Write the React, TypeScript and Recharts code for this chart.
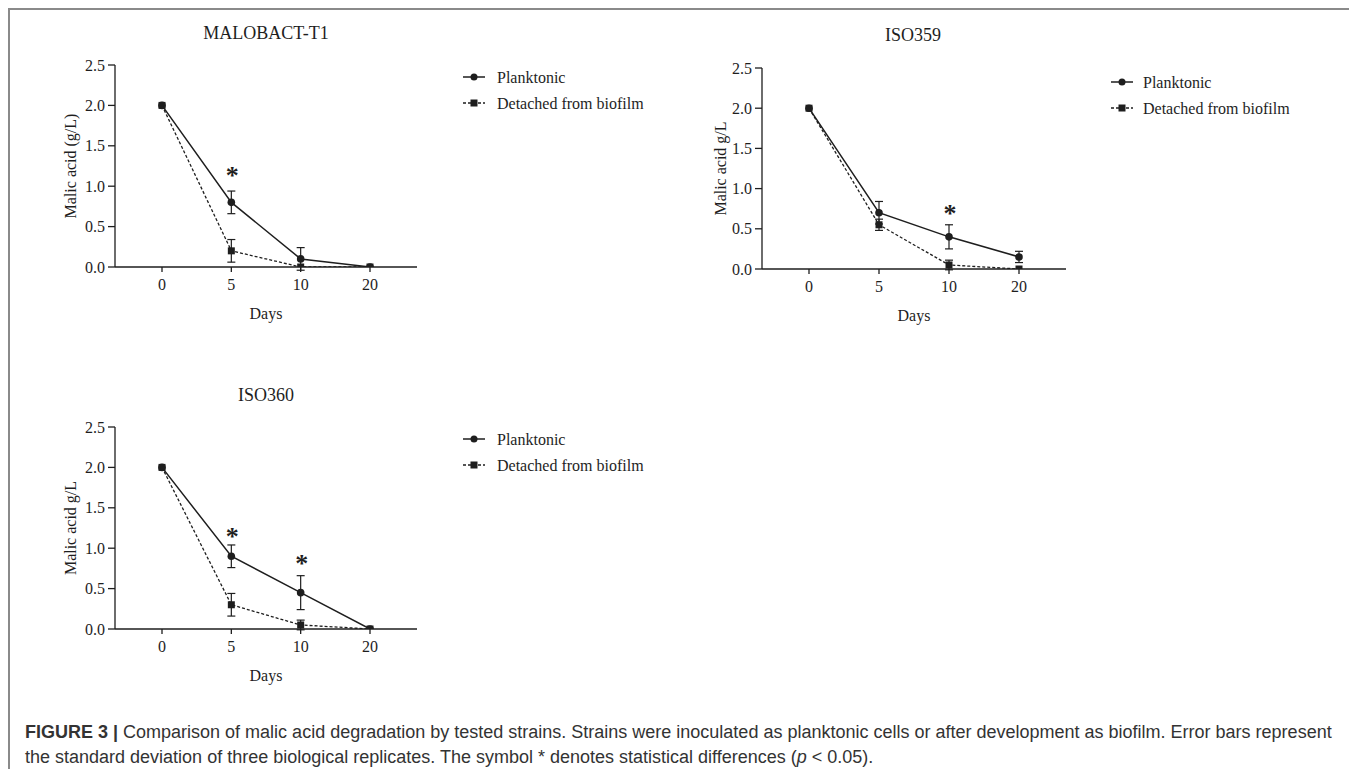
import React from 'react';
import { LineChart, Line, XAxis, YAxis, ErrorBar, ReferenceDot } from 'recharts';

const days = ['0', '5', '10', '20'];
const yTicks = [0, 0.5, 1, 1.5, 2, 2.5];

// MALOBACT-T1
const t1Planktonic = [2.0, 0.8, 0.1, 0.0];
const t1PlanktonicSd = [0, 0.14, 0.14, 0];
const t1Detached = [2.0, 0.2, 0.0, 0.0];
const t1DetachedSd = [0, 0.14, 0, 0];
const t1Stars = [{ day: '5', y: 1.18 }];

// ISO359
const s359Planktonic = [2.0, 0.7, 0.4, 0.15];
const s359PlanktonicSd = [0, 0.14, 0.15, 0.07];
const s359Detached = [2.0, 0.55, 0.05, 0.0];
const s359DetachedSd = [0, 0.07, 0.06, 0];
const s359Stars = [{ day: '10', y: 0.73 }];

// ISO360
const s360Planktonic = [2.0, 0.9, 0.45, 0.0];
const s360PlanktonicSd = [0, 0.14, 0.21, 0];
const s360Detached = [2.0, 0.3, 0.05, 0.0];
const s360DetachedSd = [0, 0.14, 0.06, 0];
const s360Stars = [{ day: '5', y: 1.19 }, { day: '10', y: 0.85 }];

const serif = '"Liberation Serif", "Times New Roman", serif';
const ink = '#1e1e1e';

function buildRows(p: number[], pSd: number[], d: number[], dSd: number[]) {
  return days.map((day, i) => ({ day, plank: p[i], plankSd: pSd[i], det: d[i], detSd: dSd[i] }));
}

const squareDot = (props: any) => (
  <rect key={`sq-${props.index}`} x={props.cx - 3.5} y={props.cy - 3.5} width={7} height={7} fill={ink} />
);

const starShape = (props: any) => (
  <text x={props.cx + 1} y={props.cy + 12} textAnchor="middle" fontSize={26} fontWeight="bold"
    fontFamily={serif} fill={ink}>*</text>
);

function Legend({ left, top, gap }: { left: number; top: number; gap: number }) {
  return (
    <svg style={{ position: 'absolute', left, top: top - 12 }} width={240} height={60}>
      <line x1={0} x2={22} y1={12} y2={12} stroke={ink} strokeWidth={1.5} />
      <circle cx={11} cy={12} r={3.5} fill={ink} />
      <text x={22 + gap} y={12} dominantBaseline="central" fontSize={16} fontFamily={serif} fill={ink}>Planktonic</text>
      <line x1={0} x2={22} y1={38} y2={38} stroke={ink} strokeWidth={1.3} strokeDasharray="3 2" />
      <rect x={7.5} y={34.5} width={7} height={7} fill={ink} />
      <text x={22 + gap} y={38} dominantBaseline="central" fontSize={16} fontFamily={serif} fill={ink}>Detached from biofilm</text>
    </svg>
  );
}

interface PanelProps {
  title: string;
  yLabel: string;
  rows: ReturnType<typeof buildRows>;
  stars: { day: string; y: number }[];
  left: number;
  top: number;
  yWidth: number;
  margin: { top: number; right: number; bottom: number; left: number };
  titleX: number;
  titleY: number;
}

function Panel({ title, yLabel, rows, stars, left, top, yWidth, margin, titleX, titleY }: PanelProps) {
  const tick = { fontSize: 16, fill: ink, fontFamily: serif };
  return (
    <>
      <div style={{
        position: 'absolute', left: titleX, top: titleY - 11, transform: 'translateX(-50%)',
        fontFamily: serif, fontSize: 18, lineHeight: '22px', color: ink, whiteSpace: 'nowrap',
      }}>{title}</div>
      <div style={{ position: 'absolute', left, top }}>
        <LineChart width={440} height={360} data={rows} margin={margin}>
          <XAxis dataKey="day" padding={{ left: 47, right: 47 }} height={92} tick={tick}
            tickSize={5} tickMargin={7} stroke={ink} strokeWidth={1.3}
            label={{ value: 'Days', position: 'center', fontSize: 16, fill: ink, fontFamily: serif }} />
          <YAxis type="number" domain={[0, 2.5]} ticks={yTicks} width={yWidth} tick={tick}
            tickFormatter={(v: number) => v.toFixed(1)} tickSize={7} tickMargin={3}
            stroke={ink} strokeWidth={1.3} allowDataOverflow
            label={{ value: yLabel, angle: -90, position: 'center', fontSize: 16, fill: ink, fontFamily: serif }} />
          <Line dataKey="plank" stroke={ink} strokeWidth={1.5} isAnimationActive={false}
            dot={{ r: 3.8, fill: ink, stroke: ink, strokeWidth: 0 }} activeDot={false}>
            <ErrorBar dataKey="plankSd" width={4} stroke={ink} strokeWidth={1.2} direction="y" />
          </Line>
          <Line dataKey="det" stroke={ink} strokeWidth={1.3} strokeDasharray="3 2" isAnimationActive={false}
            dot={squareDot} activeDot={false}>
            <ErrorBar dataKey="detSd" width={4} stroke={ink} strokeWidth={1.2} direction="y" />
          </Line>
          {stars.map((s, i) => (
            <ReferenceDot key={i} x={s.day} y={s.y} r={0} shape={starShape} />
          ))}
        </LineChart>
      </div>
    </>
  );
}

export default function App() {
  return (
    <div style={{
      position: 'relative', width: 1345, height: 761, boxSizing: 'border-box',
      border: '2px solid #8a8a8a', borderBottom: 'none', background: '#fff',
    }}>
      <Panel title="MALOBACT-T1" yLabel="Malic acid (g/L)"
        rows={buildRows(t1Planktonic, t1PlanktonicSd, t1Detached, t1DetachedSd)} stars={t1Stars}
        left={0} top={0} yWidth={90} margin={{ top: 55, right: 33, bottom: 11, left: 15 }}
        titleX={256} titleY={23} />
      <Legend left={453} top={67} gap={12} />

      <Panel title="ISO359" yLabel="Malic acid g/L"
        rows={buildRows(s359Planktonic, s359PlanktonicSd, s359Detached, s359DetachedSd)} stars={s359Stars}
        left={660} top={0} yWidth={84} margin={{ top: 58, right: 44, bottom: 9, left: 8 }}
        titleX={903} titleY={25} />
      <Legend left={1101} top={72} gap={10} />

      <Panel title="ISO360" yLabel="Malic acid g/L"
        rows={buildRows(s360Planktonic, s360PlanktonicSd, s360Detached, s360DetachedSd)} stars={s360Stars}
        left={0} top={362} yWidth={90} margin={{ top: 55, right: 33, bottom: 11, left: 15 }}
        titleX={256} titleY={385} />
      <Legend left={453} top={429} gap={12} />

      <div style={{
        position: 'absolute', left: 15, top: 710, fontFamily: '"Liberation Sans", Arial, sans-serif',
        fontSize: 18, lineHeight: '25px', color: '#333', whiteSpace: 'nowrap',
      }}>
        <b>FIGURE 3 |</b> Comparison of malic acid degradation by tested strains. Strains were inoculated as planktonic cells or after development as biofilm. Error bars represent
        <br />
        the standard deviation of three biological replicates. The symbol * denotes statistical differences (<i>p</i> &lt; 0.05).
      </div>
    </div>
  );
}
